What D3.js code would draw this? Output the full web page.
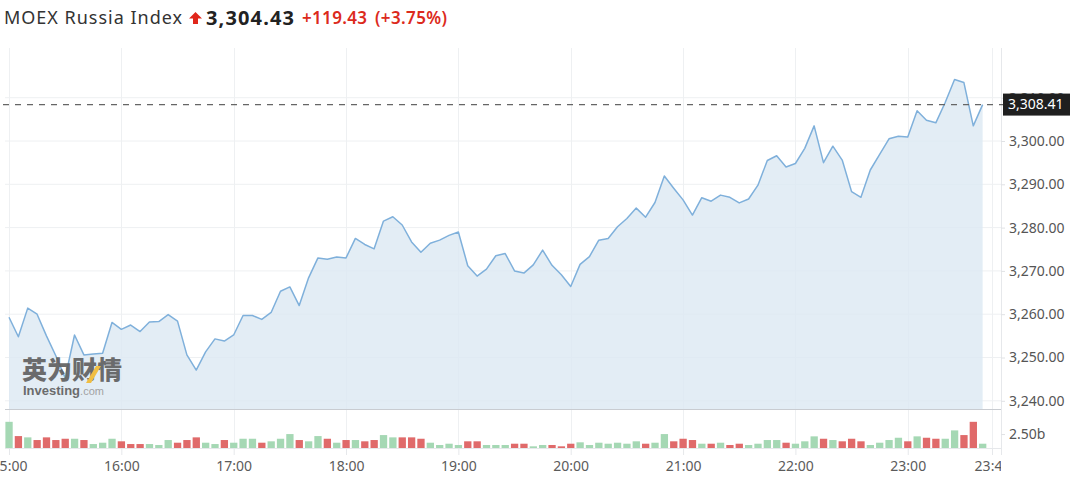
<!DOCTYPE html>
<html><head><meta charset="utf-8">
<script src="https://cdn.jsdelivr.net/npm/d3@7"></script>
<style>body{margin:0;background:#fff}svg{display:block}</style>
</head><body>
<svg id="chart" width="1080" height="484"></svg>
<script>
// ---- data ----
const startTime = "15:00", endTime = "23:45"; // 5-minute bars from 15:00 to 23:40
const prices = [
 3259.3,3254.8,3261.4,3260.0,3255.0,3250.4,3245.3,3255.2,3250.6,3250.8,
 3251.0,3258.1,3256.5,3257.5,3256.0,3258.2,3258.3,3259.9,3258.4,3250.6,
 3247.1,3251.3,3254.3,3253.8,3255.2,3259.7,3259.7,3258.8,3260.4,3265.3,
 3266.3,3262.0,3268.4,3273.0,3272.7,3273.2,3273.0,3277.5,3276.1,3275.1,
 3281.5,3282.5,3280.6,3276.7,3274.3,3276.4,3277.1,3278.2,3279.0,3271.2,
 3268.8,3270.4,3273.5,3274.0,3270.0,3269.5,3271.4,3274.8,3271.3,3269.1,
 3266.4,3271.5,3273.3,3277.1,3277.5,3280.2,3282.1,3284.5,3282.4,3285.8,
 3291.9,3289.1,3286.4,3282.9,3286.9,3286.1,3287.5,3287.0,3285.7,3286.6,
 3289.8,3295.5,3296.6,3294.0,3294.8,3298.3,3303.5,3295.0,3298.8,3295.6,
 3288.3,3287.0,3293.3,3296.9,3300.5,3301.1,3300.9,3307.0,3304.8,3304.2,
 3308.9,3314.2,3313.5,3303.5,3308.41
];
const volumes = [ // billions
 4.70,2.14,1.91,1.43,1.91,1.43,1.66,1.66,1.43,0.71,
 0.95,1.66,1.20,0.71,0.71,0.71,0.54,1.43,0.95,1.43,
 1.91,0.95,0.71,1.43,0.95,1.66,1.66,0.95,1.20,1.66,
 2.50,1.43,1.20,2.14,1.66,0.95,1.43,1.43,1.20,1.43,
 2.32,1.91,1.91,1.91,1.66,0.95,0.54,0.77,0.54,1.20,
 1.20,0.54,0.54,0.54,0.77,0.77,0.30,0.54,0.54,0.30,
 0.77,1.02,0.54,0.95,0.77,0.95,0.77,1.20,0.77,0.95,
 2.50,1.20,1.66,1.43,0.77,0.77,0.95,0.54,0.77,0.54,
 0.77,1.43,1.43,0.95,0.77,1.20,2.09,1.66,1.43,1.20,
 1.66,1.20,0.54,0.95,1.43,1.84,1.20,2.09,1.84,1.66,
 1.66,3.16,2.32,4.70,0.77
];
const volDir = [ // U = up (green), D = down (red)
 "U","D","U","D","D","D","D","U","D","U",
 "U","U","D","D","D","U","U","U","D","D",
 "D","U","U","D","U","U","U","D","U","U",
 "U","D","U","U","D","U","D","U","D","D",
 "U","U","D","D","D","U","U","U","U","D",
 "D","U","U","U","D","D","U","U","D","D",
 "D","U","U","U","U","U","U","U","D","U",
 "U","D","D","D","U","D","U","D","D","U",
 "U","U","U","D","U","U","U","D","U","D",
 "D","D","U","U","U","U","D","U","D","D",
 "U","U","D","D","U"
];
const priceTicks = [3240,3250,3260,3270,3280,3290,3300,3310];
const timeTickLabels = ["15:00","16:00","17:00","18:00","19:00","20:00","21:00","22:00","23:00","23:45"];
const volTicks = [2.5];
const lastPrice = 3308.41;
const titleName = "MOEX Russia Index";
const titlePrice = "3,304.43";
const titleChange = "+119.43";
const titlePct = "(+3.75%)";

(function draw() {
const W = 1080, H = 484;
const svg = d3.select("#chart");
svg.append("rect").attr("width", W).attr("height", H).attr("fill", "#fff");
const parse = d3.timeParse("%H:%M");
const times = d3.timeMinute.every(5).range(parse(startTime), parse(endTime));

const pL = 5, pR = 1001, pT = 48, priceBottom = 409, volBottom = 448;
const x = d3.scaleTime().domain([parse("15:00"), parse("23:45")]).range([9, 992]);
const y = d3.scaleLinear().domain([3240, 3310]).range([400.8, 97.7]);
const yv = d3.scaleLinear().domain([0, 7]).range([volBottom, priceBottom]);

const font = "'Noto Sans', 'Open Sans', sans-serif";

const defs = svg.append("defs");
defs.append("clipPath").attr("id", "plotclip").append("rect")
  .attr("x", pL).attr("y", pT).attr("width", pR - pL).attr("height", volBottom - pT);
defs.append("clipPath").attr("id", "xclip").append("rect")
  .attr("x", 0).attr("y", -10).attr("width", pR).attr("height", 50);

// grid
const grid = svg.append("g");
grid.selectAll("line.h").data(priceTicks).join("line")
  .attr("x1", pL).attr("x2", pR).attr("y1", d => y(d)).attr("y2", d => y(d))
  .attr("stroke", "#eef0f2").attr("stroke-width", 1);
const hourTimes = timeTickLabels.map(parse);
grid.selectAll("line.v").data(hourTimes).join("line")
  .attr("x1", d => Math.round(x(d)) + 0.5).attr("x2", d => Math.round(x(d)) + 0.5)
  .attr("y1", pT).attr("y2", volBottom)
  .attr("stroke", "#eef0f2").attr("stroke-width", 1);

// area + line
const g = svg.append("g").attr("clip-path", "url(#plotclip)");
const pts = prices.map((p, i) => ({t: times[i], p}));
g.append("path").datum(pts)
  .attr("d", d3.area().x(d => x(d.t)).y0(priceBottom).y1(d => y(d.p)))
  .attr("fill", "#dce8f3").attr("fill-opacity", 0.8);
g.append("path").datum(pts)
  .attr("d", d3.line().x(d => x(d.t)).y(d => y(d.p)))
  .attr("fill", "none").attr("stroke", "#7fb0db").attr("stroke-width", 1.5)
  .attr("stroke-linejoin", "round");

// volume bars
g.selectAll("rect.vol").data(volumes).join("rect")
  .attr("x", (d, i) => x(times[i]) - 3.6).attr("width", 7.3)
  .attr("y", d => yv(d)).attr("height", d => volBottom - yv(d))
  .attr("fill", (d, i) => volDir[i] === "U" ? "#a5d8b4" : "#e06a6a");

// separators
svg.append("line").attr("x1", pL).attr("x2", pR).attr("y1", priceBottom + 0.5).attr("y2", priceBottom + 0.5)
  .attr("stroke", "#c9ccd1").attr("stroke-width", 1);
svg.append("line").attr("x1", pL).attr("x2", pR).attr("y1", volBottom + 0.5).attr("y2", volBottom + 0.5)
  .attr("stroke", "#e6e8eb").attr("stroke-width", 1);
svg.append("line").attr("x1", pR + 0.5).attr("x2", pR + 0.5).attr("y1", pT).attr("y2", 455)
  .attr("stroke", "#e6e8eb").attr("stroke-width", 1);

// x axis
const xAxis = d3.axisBottom(x).tickValues(hourTimes).tickFormat((d, i) => timeTickLabels[i]).tickSize(7).tickPadding(6);
const xg = svg.append("g").attr("transform", `translate(0,${volBottom})`)
  .append("g").attr("clip-path", "url(#xclip)").call(xAxis);
xg.select(".domain").remove();
xg.selectAll(".tick line").attr("stroke", "#e6e8eb");
xg.selectAll(".tick text").attr("fill", "#5b5b5b").attr("font-family", font).attr("font-size", 14);

// y axis (price)
const yAxis = d3.axisRight(y).tickValues(priceTicks).tickFormat(d3.format(",.2f")).tickSize(4).tickPadding(4);
const yg = svg.append("g").attr("transform", `translate(${pR},0)`).call(yAxis);
yg.select(".domain").remove();
yg.selectAll(".tick line").attr("stroke", "#e0e2e5");
yg.selectAll(".tick text").attr("fill", "#555").attr("font-family", font).attr("font-size", 14);

// y axis (volume)
const vAxis = d3.axisRight(yv).tickValues(volTicks).tickFormat(d => d3.format(".2f")(d) + "b").tickSize(4).tickPadding(4);
const vg = svg.append("g").attr("transform", `translate(${pR},0)`).call(vAxis);
vg.select(".domain").remove();
vg.selectAll(".tick line").attr("stroke", "#e0e2e5");
vg.selectAll(".tick text").attr("fill", "#555").attr("font-family", font).attr("font-size", 14);

// last price dashed line + label
svg.append("line").attr("x1", 3).attr("x2", 1003).attr("y1", y(lastPrice)).attr("y2", y(lastPrice))
  .attr("stroke", "#666").attr("stroke-width", 1.3).attr("stroke-dasharray", "6,6");
const lbl = svg.append("g").attr("transform", `translate(1003,${y(lastPrice)})`);
lbl.append("rect").attr("x", 0).attr("y", -11).attr("width", 67).attr("height", 22).attr("fill", "#1f1f1f");
lbl.append("text").attr("x", 5).attr("y", 0).attr("dy", "0.35em").attr("fill", "#fff")
  .attr("font-family", font).attr("font-size", 14).text(d3.format(",.2f")(lastPrice));

// watermark
const wm = svg.append("g").attr("opacity", 0.9);
wm.append("text").attr("x", 22).attr("y", 379).attr("font-family", "'Noto Sans CJK SC', sans-serif")
  .attr("font-weight", 900).attr("font-size", 25).attr("fill", "#5e5e5e").text("英为财情");
wm.append("path").attr("d", "M86,383 L96,366 L101,366 L91,383 Z").attr("fill", "#f2b92f");
const inv = wm.append("text").attr("x", 23).attr("y", 395).attr("font-family", "'Liberation Sans', Arial, sans-serif")
  .attr("font-size", 13).attr("font-weight", "bold").attr("fill", "#5e5e5e");
inv.append("tspan").text("Investing");
inv.append("tspan").attr("font-weight", "normal").attr("font-size", 11).attr("fill", "#9a9a9a").text(".com");

// title
const tg = svg.append("g");
tg.append("text").attr("x", 4).attr("y", 24).attr("font-family", font).attr("font-size", 18)
  .attr("fill", "#333").attr("textLength", 178).attr("lengthAdjust", "spacing").text(titleName);
tg.append("path").attr("d", "M195.5,12 L202,18.5 L198,18.5 L198,24 L193,24 L193,18.5 L189,18.5 Z").attr("fill", "#e0261b");
tg.append("text").attr("x", 206).attr("y", 25).attr("font-family", font).attr("font-size", 20)
  .attr("font-weight", "bold").attr("fill", "#222").attr("textLength", 88).attr("lengthAdjust", "spacing").text(titlePrice);
tg.append("text").attr("x", 302).attr("y", 24).attr("font-family", font).attr("font-size", 17)
  .attr("font-weight", 600).attr("fill", "#dc2a1c").attr("textLength", 65).attr("lengthAdjust", "spacing").text(titleChange);
tg.append("text").attr("x", 375).attr("y", 24).attr("font-family", font).attr("font-size", 17)
  .attr("font-weight", 600).attr("fill", "#dc2a1c").attr("textLength", 72).attr("lengthAdjust", "spacing").text(titlePct);
})();
</script>
</body></html>
